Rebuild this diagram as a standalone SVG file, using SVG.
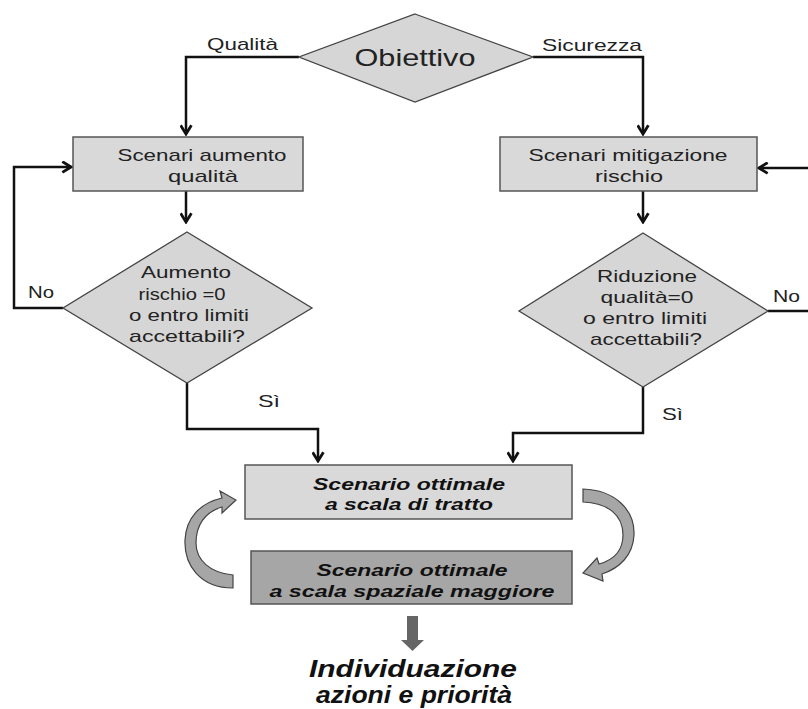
<svg xmlns="http://www.w3.org/2000/svg" width="808" height="709" viewBox="0 0 808 709">
<style>
.bg{fill:#ffffff}
.box{fill:#d9d9d9;stroke:#555;stroke-width:1.5}
.box2{fill:#a6a6a6;stroke:#555;stroke-width:1.5}
.dia{fill:#d6d6d6;stroke:#444;stroke-width:1.3}
.t{font-family:"Liberation Sans",Arial,sans-serif;font-size:17px;fill:#222;text-anchor:middle}
.lab{font-family:"Liberation Sans",Arial,sans-serif;font-size:17px;fill:#222}
.bi{font-family:"Liberation Sans",Arial,sans-serif;font-size:17px;font-weight:bold;font-style:italic;fill:#111;text-anchor:middle}
.big{font-family:"Liberation Sans",Arial,sans-serif;font-size:23px;font-weight:bold;font-style:italic;fill:#111;text-anchor:middle}
.con{fill:none;stroke:#111;stroke-width:2.5}
.curve{fill:#a6a6a6;stroke:#444;stroke-width:1.2}
</style>
<defs>
<marker id="ah" viewBox="0 0 12 12" refX="10" refY="6" markerWidth="13" markerHeight="13" markerUnits="userSpaceOnUse" orient="auto">
<path d="M2,1 L10,6 L2,11" fill="none" stroke="#111" stroke-width="2.6"/>
</marker>
</defs>
<rect class="bg" x="0" y="0" width="808" height="709"/>

<g id="connectors">
<path class="con" d="M299,57 H186 V134" marker-end="url(#ah)"/>
<path class="con" d="M533,57 H643 V134" marker-end="url(#ah)"/>
<path class="con" d="M186,191 V222" marker-end="url(#ah)"/>
<path class="con" d="M643,191 V222" marker-end="url(#ah)"/>
<path class="con" d="M63,308 H14 V167 H71" marker-end="url(#ah)"/>
<path class="con" d="M768,311 H808"/>
<path class="con" d="M808,168 H759" marker-end="url(#ah)"/>
<path class="con" d="M187,383 V429 H318 V461" marker-end="url(#ah)"/>
<path class="con" d="M643,387 V433 H513 V461" marker-end="url(#ah)"/>
<text class="lab" x="207" y="50" textLength="71" lengthAdjust="spacingAndGlyphs">Qualità</text>
<text class="lab" x="542" y="51" textLength="100" lengthAdjust="spacingAndGlyphs">Sicurezza</text>
<text class="lab" x="28" y="298" textLength="26" lengthAdjust="spacingAndGlyphs">No</text>
<text class="lab" x="773" y="302" textLength="27" lengthAdjust="spacingAndGlyphs">No</text>
<text class="lab" x="258" y="407" textLength="22" lengthAdjust="spacingAndGlyphs">Sì</text>
<text class="lab" x="662" y="420" textLength="21" lengthAdjust="spacingAndGlyphs">Sì</text>
</g>

<g id="obiettivo">
<polygon class="dia" points="415,14 533,57 415,102 299,57"/>
<text class="t" x="415" y="66" style="font-size:24px" textLength="121" lengthAdjust="spacingAndGlyphs">Obiettivo</text>
</g>

<g id="scenari-qualita">
<rect class="box" x="73" y="137" width="230" height="54"/>
<text class="t" x="202" y="161" textLength="169" lengthAdjust="spacingAndGlyphs">Scenari aumento</text>
<text class="t" x="203" y="182" textLength="70" lengthAdjust="spacingAndGlyphs">qualità</text>
</g>

<g id="scenari-rischio">
<rect class="box" x="500" y="137" width="257" height="54"/>
<text class="t" x="628" y="161" textLength="199" lengthAdjust="spacingAndGlyphs">Scenari mitigazione</text>
<text class="t" x="629" y="182" textLength="68" lengthAdjust="spacingAndGlyphs">rischio</text>
</g>

<g id="decisione-qualita">
<polygon class="dia" points="187,232 312,308 187,383 63,308"/>
<text class="t" x="186" y="278" textLength="90" lengthAdjust="spacingAndGlyphs">Aumento</text>
<text class="t" x="182" y="300" textLength="87" lengthAdjust="spacingAndGlyphs">rischio =0</text>
<text class="t" x="189" y="321" textLength="120" lengthAdjust="spacingAndGlyphs">o entro limiti</text>
<text class="t" x="187" y="342" textLength="116" lengthAdjust="spacingAndGlyphs">accettabili?</text>
</g>

<g id="decisione-rischio">
<polygon class="dia" points="643,233 768,311 643,387 519,311"/>
<text class="t" x="647" y="282" textLength="100" lengthAdjust="spacingAndGlyphs">Riduzione</text>
<text class="t" x="647" y="303" textLength="93" lengthAdjust="spacingAndGlyphs">qualità=0</text>
<text class="t" x="645" y="324" textLength="124" lengthAdjust="spacingAndGlyphs">o entro limiti</text>
<text class="t" x="646" y="345" textLength="112" lengthAdjust="spacingAndGlyphs">accettabili?</text>
</g>

<g id="scenario-tratto">
<rect class="box" x="245" y="465" width="327" height="54"/>
<text class="bi" x="409" y="490" textLength="192" lengthAdjust="spacingAndGlyphs">Scenario ottimale</text>
<text class="bi" x="409" y="510" textLength="168" lengthAdjust="spacingAndGlyphs">a scala di tratto</text>
</g>

<g id="scenario-spaziale">
<rect class="box2" x="251" y="551" width="321" height="53"/>
<text class="bi" x="412" y="576" textLength="191" lengthAdjust="spacingAndGlyphs">Scenario ottimale</text>
<text class="bi" x="412" y="597" textLength="285" lengthAdjust="spacingAndGlyphs">a scala spaziale maggiore</text>
</g>

<g id="ciclo">
<path class="curve" d="M233,588 C200,588 184,565 185,540 C186,518 200,503 222,498 L220,491 L236,500 L222,513 L222,507 C205,512 196,525 196,543 C196,560 210,573 233,575 Z"/>
<path class="curve" d="M583,489 C615,490 635,510 634,535 C633,555 620,568 602,574 L603,581 L583,573 L597,558 L599,564 C614,560 623,550 623,535 C623,515 608,503 583,502 Z"/>
</g>

<g id="risultato">
<polygon points="407,616 418,616 418,640 424,640 412.5,651 401,640 407,640" fill="#666"/>
<text class="big" x="413" y="677" textLength="208" lengthAdjust="spacingAndGlyphs">Individuazione</text>
<text class="big" x="414" y="703" textLength="196" lengthAdjust="spacingAndGlyphs">azioni e priorità</text>
</g>
</svg>
